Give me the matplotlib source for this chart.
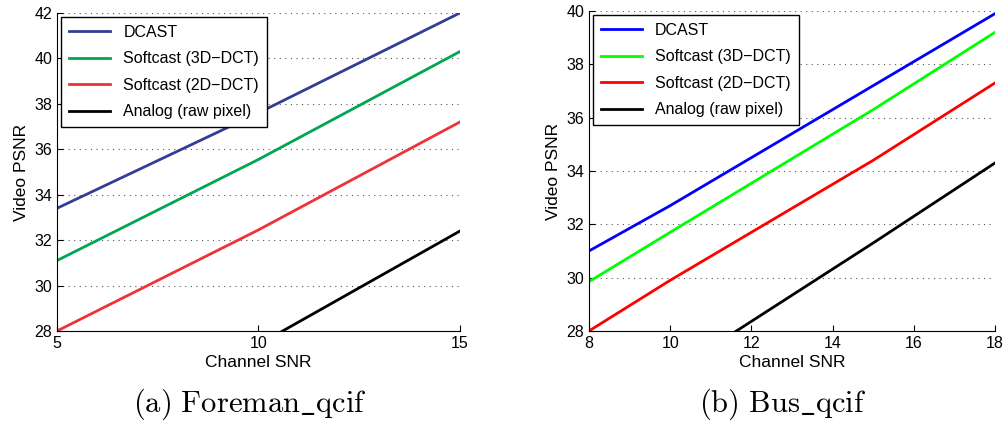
import matplotlib.pyplot as plt

plt.rcParams['font.family'] = ['Liberation Sans', 'DejaVu Sans']
plt.rcParams['mathtext.fontset'] = 'cm'

labels = ["DCAST", "Softcast (3D\u2212DCT)", "Softcast (2D\u2212DCT)", "Analog (raw pixel)"]

# (a) Foreman_qcif
snr_a = [5, 10, 15]
psnr_a = [
    [33.4, 37.6, 42.0],
    [31.1, 35.55, 40.3],
    [28.0, 32.45, 37.2],
    [22.6, 27.4, 32.4],
]
colors_a = ["#333d96", "#00a651", "#ee3338", "#000000"]

# (b) Bus_qcif
snr_b = [8, 10, 15, 18]
psnr_b = [
    [31.0, 32.7, 37.2, 39.9],
    [29.85, 31.7, 36.3, 39.2],
    [28.0, 29.9, 34.4, 37.3],
    [24.4, 26.4, 31.3, 34.3],
]
colors_b = ["#0000ff", "#00ff00", "#ff0000", "#000000"]

fig = plt.figure(figsize=(10.05, 4.23), dpi=100)
ax_a = fig.add_axes([0.0567, 0.2175, 0.401, 0.752])
ax_b = fig.add_axes([0.586, 0.2175, 0.404, 0.7565])


def draw_panel(ax, x, ys, colors, xlim, ylim, xticks, yticks, caption, cx):
    for y, c, lab in zip(ys, colors, labels):
        ax.plot(x, y, color=c, lw=2, label=lab)
    ax.set_xlim(xlim)
    ax.set_ylim(ylim)
    ax.set_xticks(xticks)
    ax.set_yticks(yticks)
    ax.tick_params(direction='in', labelsize=11.5, length=4)
    ax.spines['top'].set_visible(False)
    ax.spines['right'].set_visible(False)
    ax.yaxis.grid(True, linestyle=(0, (1, 4)), color='#555555', lw=0.8)
    ax.set_xlabel("Channel SNR", fontsize=12.5, labelpad=3)
    ax.set_ylabel("Video PSNR", fontsize=12.5, labelpad=4)
    leg = ax.legend(loc='upper left', bbox_to_anchor=(0.0, 1.0), fancybox=False,
                    edgecolor='black', fontsize=11.5, handlelength=2.6,
                    borderpad=0.5, labelspacing=0.72, borderaxespad=0.25,
                    framealpha=1)
    leg.get_frame().set_linewidth(1.0)
    fig.text(cx, 0.045, caption, ha='center', va='center', fontsize=22)


draw_panel(ax_a, snr_a, psnr_a, colors_a, (5, 15), (28, 42), [5, 10, 15],
           range(28, 43, 2), r'$\mathrm{(a)\ Foreman\_qcif}$', 250 / 1005)
draw_panel(ax_b, snr_b, psnr_b, colors_b, (8, 18), (28, 40), range(8, 19, 2),
           range(28, 41, 2), r'$\mathrm{(b)\ Bus\_qcif}$', 783 / 1005)

fig.savefig("out.png", dpi=100)
